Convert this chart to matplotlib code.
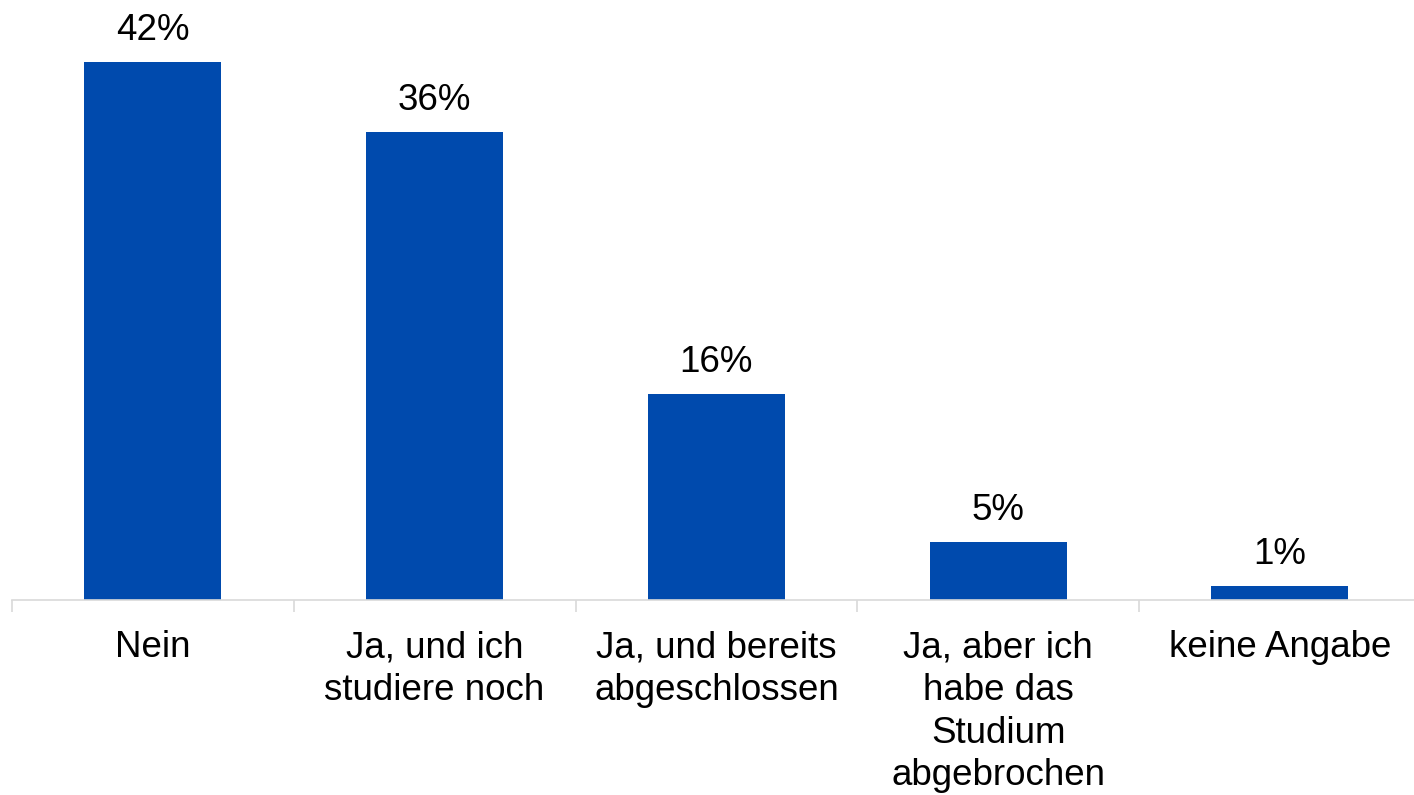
import matplotlib
matplotlib.use("Agg")
import matplotlib.pyplot as plt
from matplotlib.ticker import FixedLocator, NullFormatter

categories = ["Nein", "Ja, und ich\nstudiere noch", "Ja, und bereits\nabgeschlossen",
              "Ja, aber ich\nhabe das\nStudium\nabgebrochen", "keine Angabe"]
values = [42.0, 36.5, 16.1, 4.5, 1.1]
value_labels = ["42%", "36%", "16%", "5%", "1%"]

plt.rcParams['font.family'] = ['Liberation Sans', 'DejaVu Sans']

W, H = 1414, 795
fig = plt.figure(figsize=(W / 100, H / 100), dpi=100)
cat_px = 281.75
left_px = 12
base_px = 600
ax = fig.add_axes([left_px / W, (H - base_px) / H, (W - left_px) / W, base_px / H])

x = list(range(len(categories)))
ax.bar(x, values, width=0.486, color='#004AAD', zorder=2)

ax.set_xlim(-0.5, -0.5 + (W - left_px) / cat_px)
px_per_unit = 538.5 / 42.0
ax.set_ylim(0, base_px / px_per_unit)

for s in ['top', 'right', 'left']:
    ax.spines[s].set_visible(False)
ax.spines['bottom'].set_color('#D9D9D9')
ax.spines['bottom'].set_linewidth(1.2)
ax.set_yticks([])

ax.xaxis.set_major_locator(FixedLocator([i - 0.5 for i in range(len(categories) + 1)]))
ax.xaxis.set_major_formatter(NullFormatter())
ax.tick_params(axis='x', which='major', length=8.5, width=1.2, color='#D9D9D9', direction='out')

for i, (v, lab) in enumerate(zip(values, value_labels)):
    ax.annotate(lab, xy=(i, v), xytext=(0, 22), textcoords='offset pixels',
                ha='center', va='baseline', fontsize=26.5, color='black')

for i, cat in enumerate(categories):
    ax.annotate(cat, xy=(i, 0), xytext=(0, -30), textcoords='offset pixels',
                ha='center', va='top', fontsize=26.5, color='black',
                multialignment='center', linespacing=1.29, annotation_clip=False)

fig.savefig("out.png", dpi=100)
